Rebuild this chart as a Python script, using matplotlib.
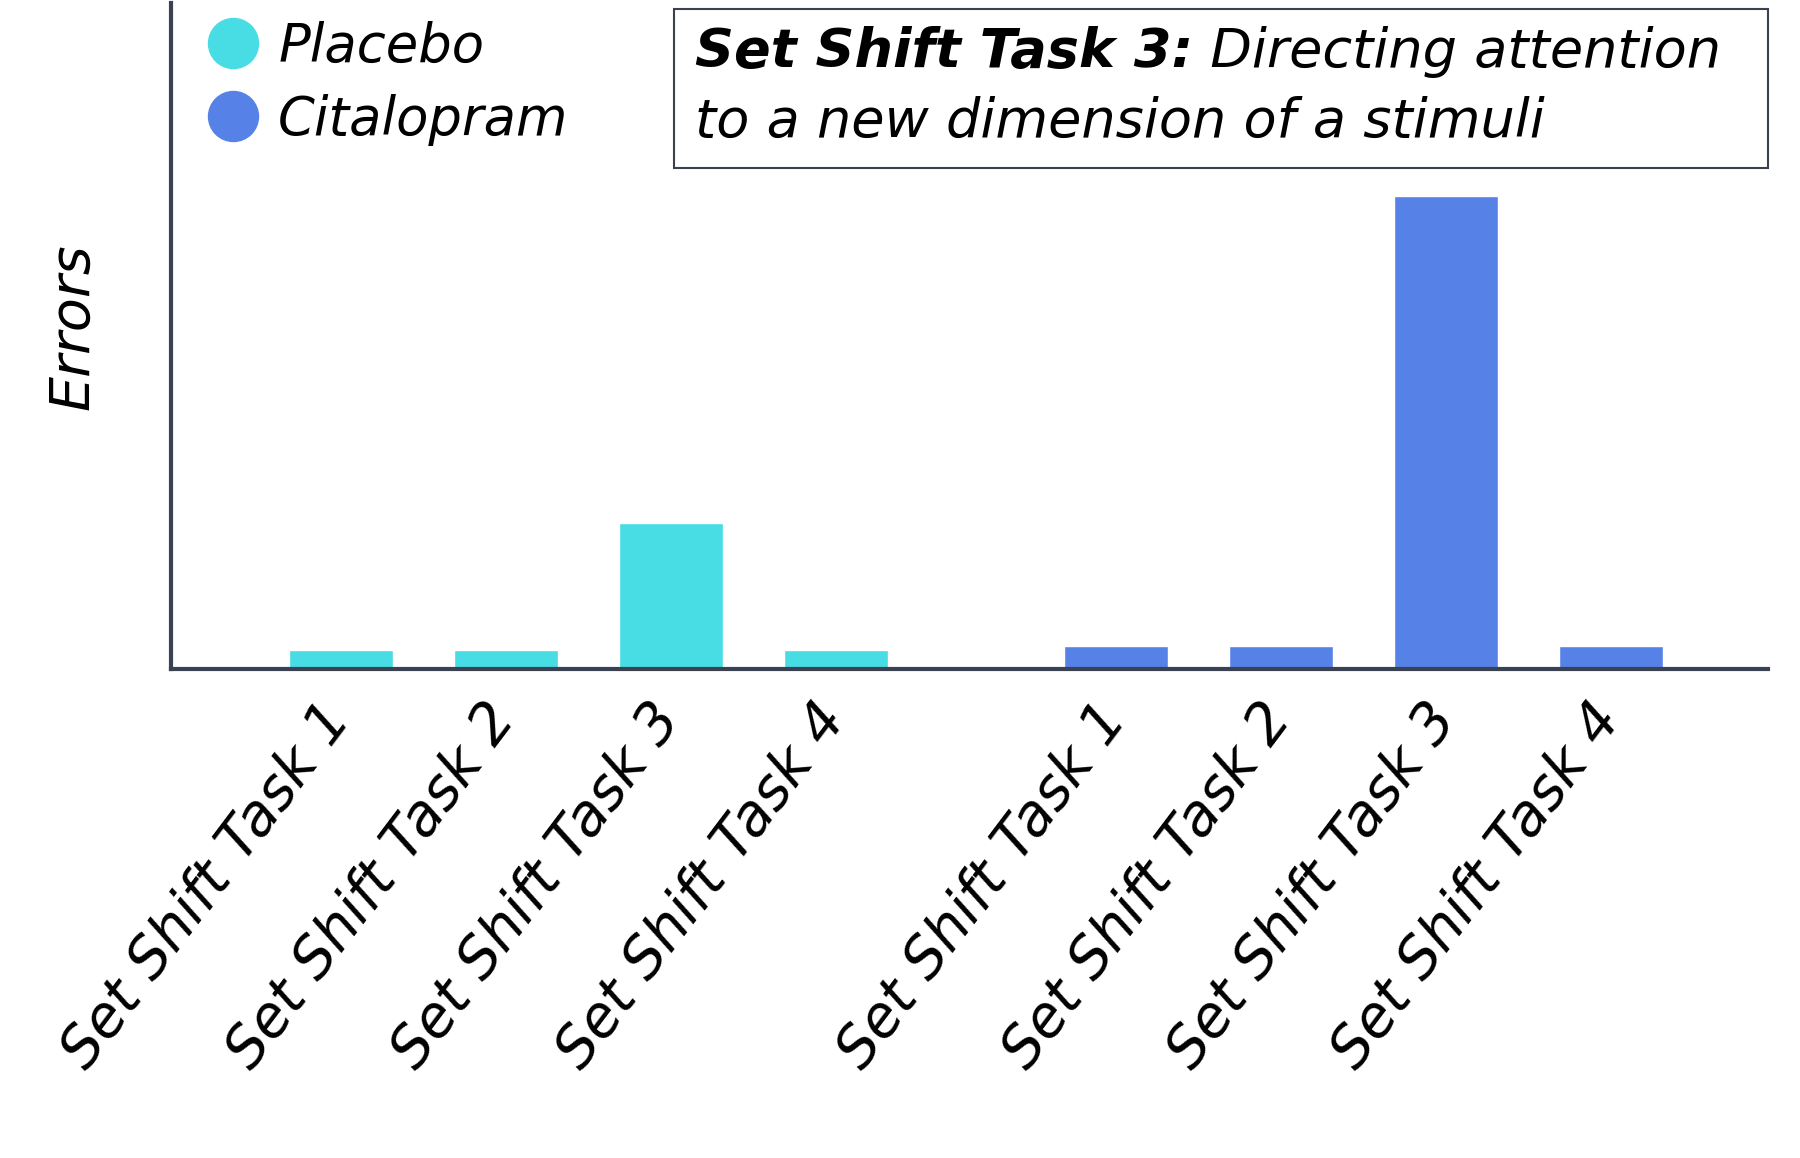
import matplotlib.pyplot as plt
from matplotlib.lines import Line2D
from matplotlib.patches import Rectangle
from matplotlib.text import Annotation
import numpy as np

# handwriting look is not available, an oblique sans is the nearest we have
plt.rcParams.update({
    'font.family': 'DejaVu Sans',
    'font.style': 'italic',
})

# Data (no y scale shown, values in arbitrary error units)
tasks = ['Set Shift Task 1', 'Set Shift Task 2', 'Set Shift Task 3', 'Set Shift Task 4']
placebo = [1.0, 1.0, 7.7, 1.0]
citalopram = [1.2, 1.2, 24.9, 1.2]
groups = ['Placebo', 'Citalopram']

col_placebo = '#48dce4'
col_cital = '#5682e8'
spine_col = '#3a4150'

fig = plt.figure(figsize=(18, 11.58), dpi=100)
ax = fig.add_axes([0.095, 0.422, 0.887, 0.575])

x_pl = np.arange(len(tasks))
x_ci = x_pl + len(tasks) + 0.7
bar_w = 0.63

ax.bar(x_pl, placebo, bar_w, color=col_placebo, edgecolor='white', linewidth=1)
ax.bar(x_ci, citalopram, bar_w, color=col_cital, edgecolor='white', linewidth=1)

ax.set_xlim(-1.03, 8.65)
ax.set_ylim(0, 35)
ax.set_yticks([])
ax.set_xticks(np.concatenate([x_pl, x_ci]))
ax.set_xticklabels(tasks * 2, rotation=53, ha='right', va='center',
                   rotation_mode='anchor', fontsize=41)
ax.tick_params(axis='x', length=0, pad=30)

for side in ['top', 'right']:
    ax.spines[side].set_visible(False)
for side in ['left', 'bottom']:
    ax.spines[side].set_color(spine_col)
    ax.spines[side].set_linewidth(3)

ax.set_ylabel('Errors', fontsize=40)
ax.yaxis.set_label_coords(-0.045, 0.514)

# legend with round markers
handles = [Line2D([], [], marker='o', linestyle='none', markersize=36, color=c)
           for c in [col_placebo, col_cital]]
fig.legend(handles, groups, loc='upper left', bbox_to_anchor=(0.115, 0.982),
           frameon=False, fontsize=38, handlelength=1, handletextpad=0.35,
           labelspacing=0.4, borderpad=0, borderaxespad=0)

# title box, bold lead-in followed by plain text
fig.patches.append(Rectangle((0.3744, 0.855), 0.608, 0.137, transform=fig.transFigure,
                             facecolor='white', edgecolor=spine_col, linewidth=1.5))
t1 = fig.text(0.386, 0.933, 'Set Shift Task 3:', fontsize=39, fontweight='bold',
              ha='left', va='bottom', zorder=3)
fig.add_artist(Annotation(' Directing attention', xy=(1, 0), xycoords=t1,
                          fontsize=39, ha='left', va='bottom', zorder=3))
fig.text(0.386, 0.872, 'to a new dimension of a stimuli', fontsize=39,
         ha='left', va='bottom', zorder=3)

plt.savefig('out.png', dpi=100, facecolor='white')
plt.close()
